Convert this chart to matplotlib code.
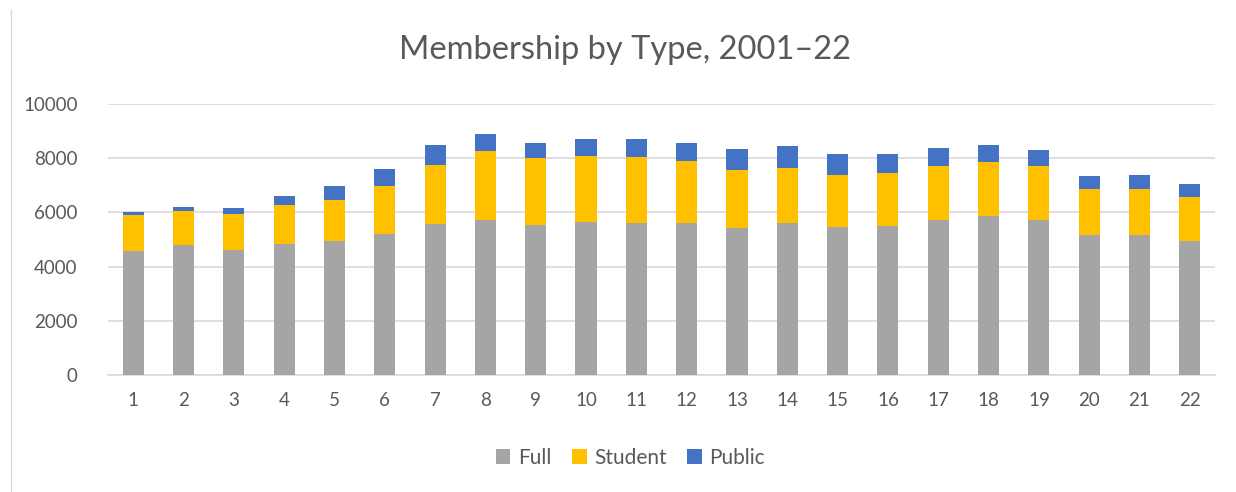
import matplotlib
import matplotlib.pyplot as plt
from matplotlib.lines import Line2D
import numpy as np

matplotlib.use('Agg')

plt.rcParams['font.family'] = ['Lato', 'DejaVu Sans']

# Data
years = list(range(1, 23))
full = [4570, 4780, 4610, 4830, 4940, 5220, 5580, 5720, 5545, 5645, 5620,
        5620, 5410, 5595, 5460, 5500, 5705, 5855, 5705, 5160, 5175, 4940]
student = [1330, 1285, 1320, 1430, 1530, 1740, 2160, 2545, 2470, 2420, 2420,
           2285, 2160, 2060, 1925, 1940, 2025, 2000, 1990, 1690, 1680, 1630]
public = [120, 135, 220, 335, 495, 630, 755, 630, 555, 640, 665,
          665, 755, 800, 755, 705, 630, 620, 595, 495, 520, 495]

GREY = '#A5A5A5'
YELLOW = '#FFC000'
BLUE = '#4472C4'
TEXT = '#595959'

fig = plt.figure(figsize=(12.36, 4.92), dpi=100)
ax = fig.add_axes([0.0874, 0.2378, 0.8956, 0.5508])

x = np.array(years)
full_arr = np.array(full)
student_arr = np.array(student)
public_arr = np.array(public)
w = 0.42

ax.bar(x, full_arr, w, color=GREY, label='Full', zorder=3)
ax.bar(x, student_arr, w, bottom=full_arr, color=YELLOW, label='Student', zorder=3)
ax.bar(x, public_arr, w, bottom=full_arr + student_arr, color=BLUE, label='Public', zorder=3)

ax.set_xlim(0.5, 22.5)
ax.set_ylim(0, 10000)
ax.set_yticks(range(0, 10001, 2000))
ax.set_xticks(x)
ax.set_xticklabels([str(v) for v in years])
ax.yaxis.grid(True, color='#D9D9D9', linewidth=1.2, zorder=0)
ax.set_axisbelow(True)
for s in ['top', 'right', 'left']:
    ax.spines[s].set_visible(False)
ax.spines['bottom'].set_color('#D9D9D9')
ax.spines['bottom'].set_linewidth(1.2)
ax.tick_params(axis='both', length=0, labelsize=13.5, colors=TEXT)
ax.tick_params(axis='y', pad=22)
ax.tick_params(axis='x', pad=12)

fig.text(0.506, 0.898, 'Membership by Type, 2001\u201322', ha='center', va='center',
         fontsize=23.5, color=TEXT)

fig.legend(loc='center', bbox_to_anchor=(0.51, 0.069), ncol=3, frameon=False,
           fontsize=15, labelcolor=TEXT, handlelength=0.7, handleheight=0.7,
           handletextpad=0.35, columnspacing=1.0)

# faint chart border on the left
fig.add_artist(Line2D([0.009, 0.009], [0, 0.98], transform=fig.transFigure,
                      color='#D9D9D9', linewidth=1))

fig.savefig('out.png', dpi=100)
